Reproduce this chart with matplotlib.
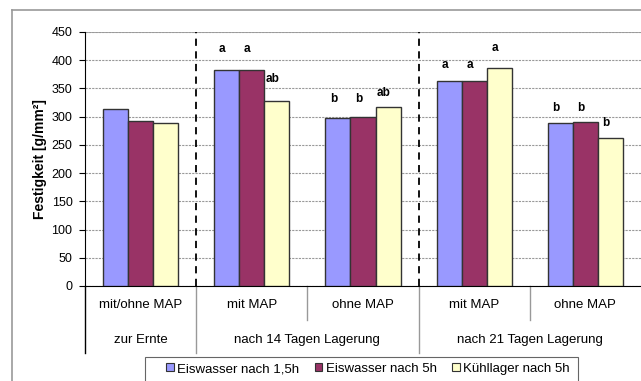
import numpy as np
import matplotlib.pyplot as plt
from matplotlib.patches import Rectangle
from matplotlib.lines import Line2D
import matplotlib.transforms as mtrans

plt.rcParams['font.family'] = ['Liberation Sans', 'DejaVu Sans']

groups = ['mit/ohne MAP', 'mit MAP', 'ohne MAP', 'mit MAP', 'ohne MAP']
periods = ['zur Ernte', 'nach 14 Tagen Lagerung', 'nach 21 Tagen Lagerung']
period_span = [(0, 1), (1, 3), (3, 5)]
series = ['Eiswasser nach 1,5h', 'Eiswasser nach 5h', 'Kühllager nach 5h']
colors = ['#9999FF', '#993366', '#FFFFCC']

eis_15 = [313, 383, 298, 364, 289]
eis_5 = [292, 383, 299, 363, 290]
kuehl_5 = [289, 328, 317, 386, 263]
values = [eis_15, eis_5, kuehl_5]

# significance letters and their heights
letters = [
    ['', 'a', 'b', 'a', 'b'],
    ['', 'a', 'b', 'a', 'b'],
    ['', 'ab', 'ab', 'a', 'b'],
]
letter_y = [
    [0, 420, 331, 392, 315],
    [0, 420, 331, 392, 315],
    [0, 367, 342, 422, 289],
]

fig = plt.figure(figsize=(6.41, 3.81), dpi=100)
W, H = 641, 381
ax = fig.add_axes([85 / W, 1 - 286 / H, 556 / W, 254 / H])

x = np.arange(len(groups))
bw = 0.225
for i, (vals, c) in enumerate(zip(values, colors)):
    ax.bar(x + (i - 1) * bw, vals, bw, color=c, edgecolor='#333333', linewidth=1, zorder=3)
    for j, (lab, ly) in enumerate(zip(letters[i], letter_y[i])):
        if lab:
            ax.text(x[j] + (i - 1) * bw - 0.04, ly, lab, ha='center', va='center',
                    fontsize=8.5, fontweight='bold', zorder=4)

ax.set_xlim(-0.5, 4.5)
ax.set_ylim(0, 450)
ax.set_yticks(np.arange(0, 451, 50))
ax.tick_params(axis='y', labelsize=9, length=4, direction='out', pad=5)
ax.set_xticks([])
ax.yaxis.grid(True, color='#999999', linestyle=(0, (2, 1)), linewidth=0.8, zorder=0)
ax.axhline(450, color='#999999', linewidth=1.2, zorder=1)
for s in ['top', 'right']:
    ax.spines[s].set_visible(False)
ax.spines['left'].set_color('black')
ax.spines['bottom'].set_color('black')
ax.set_ylabel('Festigkeit [g/mm²]', fontsize=10, fontweight='bold', labelpad=3)

for xv in [0.5, 2.5]:
    ax.axvline(xv, color='black', linestyle=(0, (4, 3)), linewidth=1.3, zorder=4)

# two-level category axis
tr = mtrans.blended_transform_factory(ax.transData, ax.transAxes)
row1 = -19 / 254
row2 = -54 / 254
bottom = -67 / 254
for j, g in enumerate(groups):
    ax.text(x[j], row1, g, transform=tr, ha='center', va='center', fontsize=9.5)
for p, (a, b) in zip(periods, period_span):
    ax.text((a + b - 1) / 2, row2, p, transform=tr, ha='center', va='center', fontsize=9.5)
ax.plot([-0.5, -0.5], [0, bottom], transform=tr, color='black', lw=1, clip_on=False)
for xv in [0.5, 2.5]:
    ax.plot([xv, xv], [0, bottom], transform=tr, color='#999999', lw=1, clip_on=False)
for xv in [1.5, 3.5]:
    ax.plot([xv, xv], [0, -34 / 254], transform=tr, color='#999999', lw=1, clip_on=False)

# outer chart frame
fig.add_artist(Line2D([12 / W, 12 / W], [0, 1 - 10 / H], color='#999999', lw=1.2))
fig.add_artist(Line2D([12 / W, 1], [1 - 10 / H, 1 - 10 / H], color='#999999', lw=1.2))

# legend
fig.add_artist(Rectangle((145 / W, -0.01), 433 / W, (381 - 357) / H + 0.01,
                         transform=fig.transFigure, facecolor='white',
                         edgecolor='#666666', lw=0.8))
handles = [Rectangle((0, 0), 1, 1, facecolor=c, edgecolor='#333333', lw=0.8) for c in colors]
fig.legend(handles, series, loc='center', bbox_to_anchor=(368 / W, 1 - 369 / H),
           ncol=3, frameon=False, fontsize=9.5, handlelength=0.55, handleheight=0.55,
           handletextpad=0.25, columnspacing=1.2, borderpad=0)

fig.savefig('out.png', dpi=100)
